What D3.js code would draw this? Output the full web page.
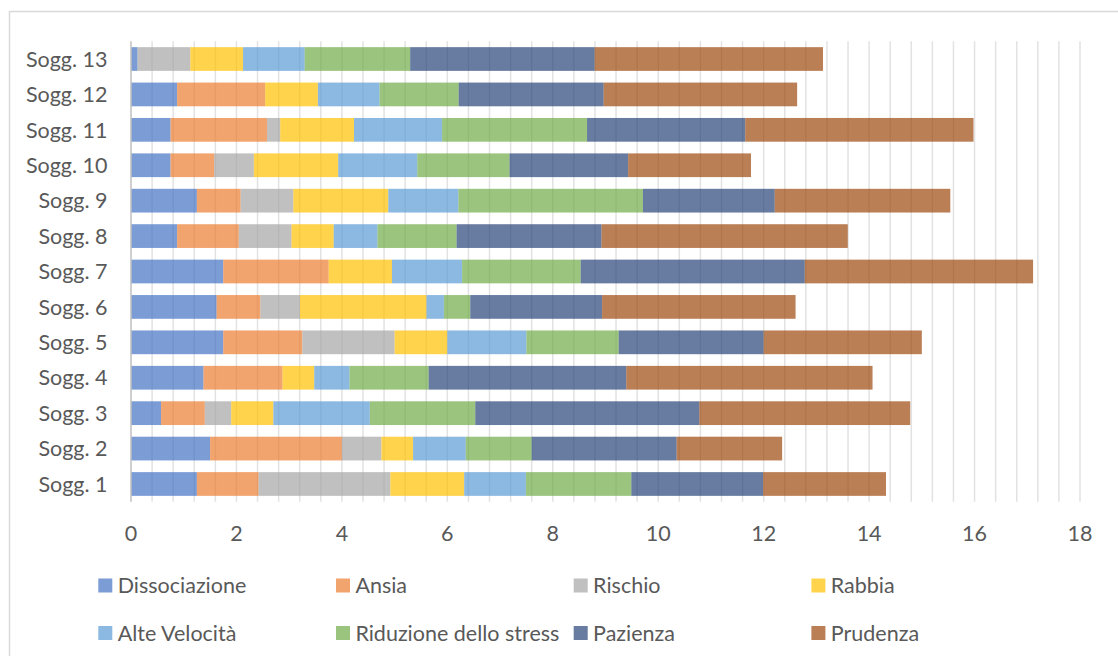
<!DOCTYPE html>
<html>
<head>
<meta charset="utf-8">
<script src="https://cdn.jsdelivr.net/npm/d3@7"></script>
<style>
  html, body { margin: 0; padding: 0; background: #fff; }
  svg { display: block; }
  text { font-family: Lato, "Open Sans", sans-serif; fill: #595959; }
</style>
</head>
<body>
<svg id="chart" width="1118" height="656"></svg>
<script>
// ---- data ----
const categories = ["Sogg. 1","Sogg. 2","Sogg. 3","Sogg. 4","Sogg. 5","Sogg. 6","Sogg. 7",
                    "Sogg. 8","Sogg. 9","Sogg. 10","Sogg. 11","Sogg. 12","Sogg. 13"];
const seriesNames = ["Dissociazione","Ansia","Rischio","Rabbia","Alte Velocità",
                     "Riduzione dello stress","Pazienza","Prudenza"];
// values per series, in category order (Sogg. 1 .. Sogg. 13)
const dissociazione = [1.25, 1.5, 0.57, 1.375, 1.75, 1.625, 1.75, 0.875, 1.25, 0.75, 0.75, 0.875, 0.125];
const ansia         = [1.17, 2.5, 0.83, 1.5, 1.5, 0.83, 2.0, 1.17, 0.83, 0.83, 1.83, 1.67, 0];
const rischio       = [2.5, 0.75, 0.5, 0, 1.75, 0.75, 0, 1.0, 1.0, 0.75, 0.25, 0, 1.0];
const rabbia        = [1.4, 0.6, 0.8, 0.6, 1.0, 2.4, 1.2, 0.8, 1.8, 1.6, 1.4, 1.0, 1.0];
const alteVelocita  = [1.17, 1.0, 1.83, 0.67, 1.5, 0.33, 1.33, 0.83, 1.33, 1.5, 1.67, 1.17, 1.17];
const riduzione     = [2.0, 1.25, 2.0, 1.5, 1.75, 0.5, 2.25, 1.5, 3.5, 1.75, 2.75, 1.5, 2.0];
const pazienza      = [2.5, 2.75, 4.25, 3.75, 2.75, 2.5, 4.25, 2.75, 2.5, 2.25, 3.0, 2.75, 3.5];
const prudenza      = [2.33, 2.0, 4.0, 4.67, 3.0, 3.67, 4.33, 4.67, 3.33, 2.33, 4.33, 3.67, 4.33];
const seriesValues = [dissociazione, ansia, rischio, rabbia, alteVelocita, riduzione, pazienza, prudenza];
const baseColors = ["#4472C4","#ED7D31","#A5A5A5","#FFC000","#5B9BD5","#70AD47","#264478","#9E480E"];
const xTicks = [0,2,4,6,8,10,12,14,16,18];

// ---- layout ----
const svg = d3.select("#chart");
const plotLeft = 131, plotRight = 1080, plotTop = 41.3, plotBottom = 501.7;

// outer border
svg.append("rect")
  .attr("x", 9.5).attr("y", 11.5).attr("width", 1300).attr("height", 1000)
  .attr("fill", "none").attr("stroke", "#d9d9d9").attr("stroke-width", 1.5);

const x = d3.scaleLinear().domain([0, 18]).range([plotLeft, plotRight]);
const y = d3.scaleBand().domain(categories.slice().reverse())
  .range([plotTop, plotBottom]).paddingInner(0.33).paddingOuter(0.165);

// minor gridlines every 0.4
const gridVals = d3.range(1, 46).map(i => i * 0.4);
svg.append("g").selectAll("line").data(gridVals).join("line")
  .attr("x1", d => x(d)).attr("x2", d => x(d))
  .attr("y1", plotTop).attr("y2", plotBottom)
  .attr("stroke", "#e2e2e2").attr("stroke-width", 1.5);

// stacked data
const rows = categories.map((c, i) => {
  const o = { cat: c };
  seriesNames.forEach((s, j) => o[s] = seriesValues[j][i]);
  return o;
});
const stack = d3.stack().keys(seriesNames)(rows);

const gBars = svg.append("g");
stack.forEach((layer, j) => {
  gBars.append("g")
    .attr("fill", baseColors[j]).attr("fill-opacity", 0.7)
    .selectAll("rect").data(layer).join("rect")
    .attr("x", d => x(d[0]))
    .attr("width", d => Math.max(0, x(d[1]) - x(d[0])))
    .attr("y", d => y(d.data.cat))
    .attr("height", y.bandwidth());
});

// left axis line
svg.append("line")
  .attr("x1", plotLeft).attr("x2", plotLeft)
  .attr("y1", plotTop).attr("y2", plotBottom)
  .attr("stroke", "#bfbfbf").attr("stroke-width", 1.5);

// category labels
svg.append("g").selectAll("text").data(categories).join("text")
  .attr("x", 107.5)
  .attr("y", d => y(d) + y.bandwidth() / 2)
  .attr("dy", "0.36em")
  .attr("text-anchor", "end")
  .attr("font-size", 21.5)
  .text(d => d);

// x tick labels
svg.append("g").selectAll("text").data(xTicks).join("text")
  .attr("x", d => x(d))
  .attr("y", 541)
  .attr("text-anchor", "middle")
  .attr("font-size", 21.5)
  .text(d => d);

// legend
const legendCols = [98.3, 336, 573.7, 811.4];
const legendRows = [585.5, 633];
const leg = svg.append("g");
seriesNames.forEach((s, j) => {
  const cx = legendCols[j % 4], cy = legendRows[Math.floor(j / 4)];
  leg.append("rect")
    .attr("x", cx).attr("y", cy - 7).attr("width", 14).attr("height", 14)
    .attr("fill", baseColors[j]).attr("fill-opacity", 0.7);
  leg.append("text")
    .attr("x", cx + 19.4).attr("y", cy).attr("dy", "0.36em")
    .attr("font-size", 21.5)
    .text(s);
});
</script>
</body>
</html>
